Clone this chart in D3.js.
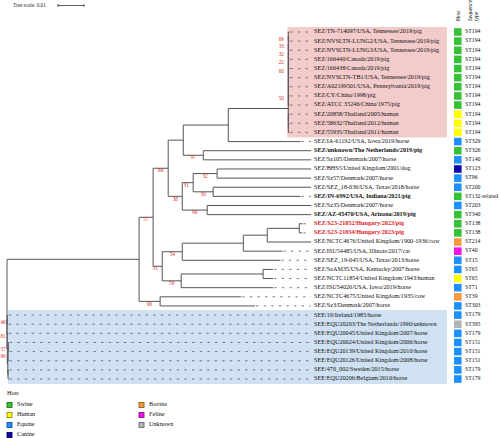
<!DOCTYPE html>
<html><head><meta charset="utf-8">
<script src="https://cdn.jsdelivr.net/npm/d3@7"></script>
<style>body{margin:0;background:#fff}svg{display:block}</style>
</head><body><svg id="c" width="500" height="438"></svg>
<script>
// ---------------- DATA ----------------
const strains = [
 "SEZ/TN-714097/USA, Tennessee/2019/pig","SEZ/NVSLTN-LUNG2/USA, Tennessee/2019/pig","SEZ/NVSLTN-LUNG3/USA, Tennessee/2019/pig",
 "SEZ/166440/Canada/2019/pig","SEZ/166438/Canada/2019/pig","SEZ/NVSLTN-TB1/USA, Tennessee/2019/pig",
 "SEZ/A02199501/USA, Pennsylvania/2019/pig","SEZ/CY/China/1998/pig","SEZ/ATCC 35246/China/1975/pig",
 "SEZ/20858/Thailand/2005/human","SEZ/58632/Thailand/2012/human","SEZ/55935/Thailand/2011/human",
 "SEZ/IA-61192/USA, Iowa/2019/horse","SEZ/unknown/The Netherlands/2019/pig","SEZ/Sz105/Denmark/2007/horse",
 "SEZ/BHS5/United Kingdom/2001/dog","SEZ/Sz57/Denmark/2007/horse","SEZ/SEZ_18-036/USA, Texas/2018/horse",
 "SEZ/IN-6992/USA, Indiana/2021/pig","SEZ/Sz35/Denmark/2007/horse","SEZ/AZ-45470/USA, Arizona/2019/pig",
 "SEZ/S23-21852/Hungary/2023/pig","SEZ/S23-21854/Hungary/2023/pig","SEZ/NCTC4676/United Kingdom/1900-1936/cow",
 "SEZ/ISU54485/USA, Illinois/2017/cat","SEZ/SEZ_19-045/USA, Texas/2013/horse","SEZ/SzAM35/USA, Kentucky/2007/horse",
 "SEZ/NCTC11854/United Kingdom/1943/human","SEZ/ISU54026/USA, Iowa/2019/horse","SEZ/NCTC4675/United Kingdom/1935/cow",
 "SEZ/Sz3/Denmark/2007/horse","SEE/19/Ireland/1985/horse","SEE/EQU20203/The Netherlands/1990/unknown",
 "SEE/EQU20045/United Kingdom/2007/horse","SEE/EQU20024/United Kingdom/2006/horse","SEE/EQU20139/United Kingdom/2010/horse",
 "SEE/EQU20126/United Kingdom/2008/horse","SEE/470_002/Sweden/2015/horse","SEE/EQU20206/Belgium/2010/horse"
];
const hosts = [
 "Swine","Swine","Swine","Swine","Swine","Swine","Swine","Swine","Swine",
 "Human","Human","Human",
 "Equine","Swine","Equine","Canine","Equine","Equine","Swine","Equine","Swine",
 "Swine","Swine","Bovine","Feline","Equine","Equine","Human","Equine","Bovine","Equine",
 "Equine","Unknown","Equine","Equine","Equine","Equine","Equine","Equine"
];
const seqTypes = [
 "ST194","ST194","ST194","ST194","ST194","ST194","ST194","ST194","ST194","ST194","ST194","ST194",
 "ST329","ST326","ST140","ST123","ST96","ST200","ST132-related","ST203","ST340",
 "ST138","ST138","ST214","ST40","ST15","ST65","ST65","ST71","ST39","ST303",
 "ST179","ST395","ST179","ST151","ST151","ST151","ST179","ST179"
];
const boldStrains = ["SEZ/unknown/The Netherlands/2019/pig","SEZ/IN-6992/USA, Indiana/2021/pig","SEZ/AZ-45470/USA, Arizona/2019/pig"];
const newStrains = ["SEZ/S23-21852/Hungary/2023/pig","SEZ/S23-21854/Hungary/2023/pig"];
const hostTypes = ["Swine","Human","Equine","Canine","Bovine","Feline","Unknown"];
const hostPalette = ["#36c236","#ffff00","#1e90ff","#0a0aa8","#f59a3c","#ee14e6","#b4b4b4"];
const pinkClade = [0, 11];   // leaf index range of highlighted SEZ cluster
const blueClade = [31, 38];  // leaf index range of SEE cluster
const scaleBarValue = 0.01;

// Newick subtrees (leaf names = indices into strains; internal names = bootstrap support)
const swineChain = "((((((((0:0.0004,1:0.0004)69:0,2:0.0004)33:0,3:0.0004)32:0,4:0.0004)22:0,5:0.0004)60:0,6:0.0004):0,7:0.0004):0,8:0.0004)50:0";
const thaiClade = "(9:0.0004,(10:0.0004,11:0.0004):0):0";
const cladeE = "(((" + swineChain + "," + thaiClade + "):0.0231,12:0.0277):0.0173,(13:0.0415,14:0.0415)97:0.0077):0.0058";
const cladeF = "(((15:0.0362,16:0.0362)32:0.0092,(17:0.0377,18:0.0335)30:0.0077)31:0.0042,(19:0.04,20:0.04)99:0.0096)38:0.0054";
const cladeD = "(((((21:0.0012,22:0.0012):0.0123,23:0.0169):0.0092,24:0.015):0.0235,25:0.0377)54:0.0077,((26:0.0038,27:0.0038):0.0315,28:0.0354)59:0.0073)31:0.0035";
const cladeSEZ = "(((" + cladeE + "," + cladeF + ")86:0.0058," + cladeD + ")57:0.0054,(29:0.0312,30:0.0365)96:0.0081):0.0508";
const cladeSEE = "((31:0.0002,32:0.0002)46:0.0001,(33:0.0002,((((34:0.0002,35:0.0002)57:0.0001,36:0.0002)99:0.0001,(37:0.0002,38:0.0002):0.0001):0.0001):0.0001):0.0001";
const newick = "(" + cladeSEZ + "," + cladeSEE + ")81;";

// ---------------- PARSE ----------------
function parseNewick(s){
  let i = 0;
  function node(){
    const n = {name:"", len:0, children:null};
    if (s[i] === "("){
      i++; n.children = [node()];
      while (s[i] === ","){ i++; n.children.push(node()); }
      i++;
    }
    let nm = ""; while (i < s.length && !",():;".includes(s[i])) nm += s[i++];
    n.name = nm;
    if (s[i] === ":"){ i++; let v=""; while (i < s.length && !",();".includes(s[i])) v += s[i++]; n.len = +v; }
    return n;
  }
  return node();
}

// ---------------- LAYOUT ----------------
const svg = d3.select("#c");
const x = d3.scaleLinear().domain([0, 0.01]).range([7, 33]);
const y = d3.scaleLinear().domain([0, strains.length - 1]).range([32, 379]);
const labelX = 314, dashEnd = 311, rightBg = 447, boxX = 454, stX = 465;
const hostColor = d3.scaleOrdinal().domain(hostTypes).range(hostPalette);

const root = d3.hierarchy(parseNewick(newick), d => d.children);
root.eachBefore(d => { d.dist = (d.parent ? d.parent.dist : 0) + d.data.len; d.px = x(d.dist); });
root.eachAfter(d => {
  if (!d.children) d.py = y(+d.data.name);
  else d.py = (d.children[0].py + d.children[d.children.length-1].py) / 2;
});

const leavesArr = root.leaves();
const pinkAnc = leavesArr.find(l => +l.data.name === pinkClade[0]).ancestors()
  .find(a => a.leaves().some(l => +l.data.name === pinkClade[1]));

// clade backgrounds
svg.append("rect").attr("x", pinkAnc.px - 1).attr("y", y(pinkClade[0]) - 5)
  .attr("width", rightBg - pinkAnc.px + 1).attr("height", y(pinkClade[1]) - y(pinkClade[0]) + 10)
  .attr("fill", "#f3cbcb");
svg.append("rect").attr("x", x(0) + 1).attr("y", y(blueClade[0]) - 5)
  .attr("width", rightBg - x(0) - 1).attr("height", y(blueClade[1]) - y(blueClade[0]) + 10)
  .attr("fill", "#cfe1f2");

const g = svg.append("g");
// dashed label guides
g.selectAll("line.dash").data(leavesArr.filter(d => d.px < dashEnd - 2)).join("line")
  .attr("x1", d => d.px + 1).attr("x2", dashEnd).attr("y1", d => d.py).attr("y2", d => d.py)
  .attr("stroke", "#6a6a6a").attr("stroke-width", 0.9).attr("stroke-dasharray", "2.4,5.2");
// horizontal branches
g.selectAll("line.h").data(root.descendants().filter(d => d.parent)).join("line")
  .attr("x1", d => d.parent.px).attr("x2", d => Math.max(d.px, d.parent.px + 0.5))
  .attr("y1", d => d.py).attr("y2", d => d.py)
  .attr("stroke", "#555").attr("stroke-width", 1);
// vertical connectors
g.selectAll("line.v").data(root.descendants().filter(d => d.children)).join("line")
  .attr("x1", d => d.px).attr("x2", d => d.px)
  .attr("y1", d => d.children[0].py).attr("y2", d => d.children[d.children.length-1].py)
  .attr("stroke", "#555").attr("stroke-width", 1);

// bootstrap labels
g.selectAll("text.bs").data(root.descendants().filter(d => d.children && d.data.name)).join("text")
  .attr("x", d => { const p = d.parent ? d.parent.px : d.px; return Math.max(3, Math.min((p + d.px)/2, d.px - 7)); })
  .attr("y", d => d.py + 3)
  .attr("text-anchor", "middle").attr("dominant-baseline", "middle")
  .attr("font-family", "Liberation Serif, serif").attr("font-size", 5.2).attr("fill", "#d42a2a")
  .text(d => d.data.name);

// leaf labels
g.selectAll("text.leaf").data(leavesArr).join("text")
  .attr("x", labelX).attr("y", d => d.py).attr("dominant-baseline", "middle")
  .attr("font-family", "Liberation Serif, serif").attr("font-size", 6.2)
  .attr("font-weight", d => { const s = strains[+d.data.name]; return (boldStrains.includes(s) || newStrains.includes(s)) ? "bold" : "normal"; })
  .attr("fill", d => newStrains.includes(strains[+d.data.name]) ? "#e0201c" : "#111")
  .text(d => strains[+d.data.name]);

// host boxes and sequence types
const idx = d3.range(strains.length);
svg.selectAll("rect.host").data(idx).join("rect")
  .attr("x", boxX).attr("y", i => y(i) - 3.8).attr("width", 7.6).attr("height", 7.6)
  .attr("fill", i => hostColor(hosts[i]));
svg.selectAll("text.st").data(idx).join("text")
  .attr("x", stX).attr("y", i => y(i)).attr("dominant-baseline", "middle")
  .attr("font-family", "Liberation Serif, serif").attr("font-size", 5.8).attr("fill", "#111")
  .text(i => seqTypes[i]);

// column headers
function vtext(tx, ty, str, italic){
  svg.append("text").attr("transform", `translate(${tx},${ty}) rotate(-90)`)
    .attr("font-family", "Liberation Serif, serif").attr("font-size", 5.6)
    .attr("font-style", italic ? "italic" : "normal").attr("fill", "#111").text(str);
}
vtext(459.5, 21, "Host", false);
vtext(472, 21, "Sequence", true);
vtext(478, 21, "type", true);

// tree scale
svg.append("text").attr("x", 13).attr("y", 7).attr("font-family", "Liberation Serif, serif")
  .attr("font-size", 5.2).attr("fill", "#222").text("Tree scale: " + scaleBarValue);
const sb0 = 58, sb1 = sb0 + (x(scaleBarValue) - x(0));
svg.append("line").attr("x1", sb0).attr("x2", sb1).attr("y1", 5.5).attr("y2", 5.5).attr("stroke", "#333").attr("stroke-width", 0.8);
[sb0, sb1].forEach(v => svg.append("line").attr("x1", v).attr("x2", v).attr("y1", 4).attr("y2", 7).attr("stroke", "#333").attr("stroke-width", 0.8));

// legend
svg.append("text").attr("x", 7).attr("y", 395).attr("font-family", "Liberation Serif, serif")
  .attr("font-size", 6.2).attr("fill", "#111").text("Host");
const lg = svg.selectAll("g.lg").data(hostTypes).join("g")
  .attr("transform", (d, i) => `translate(${i < 4 ? 7 : 139},${405 + (i % 4) * 10})`);
lg.append("rect").attr("x", 0).attr("y", -2.5).attr("width", 5).attr("height", 5)
  .attr("fill", d => hostColor(d)).attr("stroke", d => d3.color(hostColor(d)).darker(1.5)).attr("stroke-width", 0.9);
lg.append("text").attr("x", 10).attr("y", 0).attr("dominant-baseline", "middle")
  .attr("font-family", "Liberation Serif, serif").attr("font-size", 6.2).attr("fill", "#111").text(d => d);
</script></body></html>
